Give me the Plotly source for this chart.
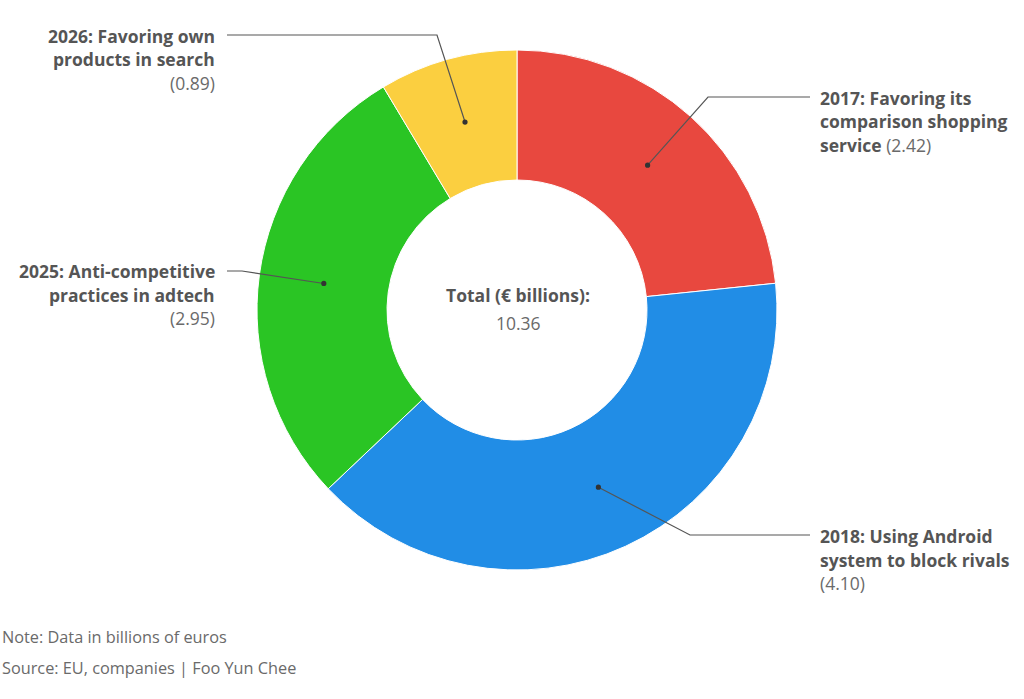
import plotly.graph_objects as go
import math

# ---------------- data ----------------
years = ["2017", "2018", "2025", "2026"]
label_lines = [
    ["Favoring its", "comparison shopping", "service"],
    ["Using Android", "system to block rivals"],
    ["Anti-competitive", "practices in adtech"],
    ["Favoring own", "products in search"],
]
values = [2.42, 4.10, 2.95, 0.89]
colors = ["#E8483F", "#218DE6", "#2AC524", "#FBCF40"]
total_label = "Total (€ billions):"
note_text = "Note: Data in billions of euros"
source_text = "Source: EU, companies | Foo Yun Chee"

# ---------------- layout / style (pixels) ----------------
W, H = 1024, 699
CX, CY, R_OUT, HOLE = 517, 310, 260, 0.5
value_inline = [True, False, False, False]
label_side = ["right", "right", "left", "left"]
label_x = [818, 818, 217, 217]
label_y0 = [98, 536, 271, 36]
line_gap = 23.5
elbows = [(708, 97), (690, 535), (242, 271), (437, 35)]
line_ends = [(810, 97), (810, 535), (227, 271), (227, 35)]
TEXT = "#555555"
NUM = "#6a6a6a"
FONT = "Open Sans"
LABEL_SIZE = 17.5
FOOT_SIZE = 16.3


def px(x):
    return x / W


def py(y):
    return 1 - y / H


fig = go.Figure(go.Pie(
    labels=[f"{y}: {' '.join(l)}" for y, l in zip(years, label_lines)],
    values=values,
    hole=HOLE,
    sort=False,
    direction="clockwise",
    rotation=0,
    marker=dict(colors=colors, line=dict(color="white", width=1)),
    textinfo="none",
    hoverinfo="label+value",
    showlegend=False,
    domain=dict(x=[px(CX - R_OUT), px(CX + R_OUT)], y=[py(CY + R_OUT), py(CY - R_OUT)]),
))

annotations = []
shapes = []
total = sum(values)
cum = 0.0
r_mid = R_OUT * (1 + HOLE) / 2
for i, v in enumerate(values):
    frac_mid = (cum + v / 2) / total
    cum += v
    ang = 2 * math.pi * frac_mid
    dx = CX + r_mid * math.sin(ang)
    dy = CY - r_mid * math.cos(ang)
    ex, ey = elbows[i]
    lx, ly = line_ends[i]
    shapes.append(dict(
        type="path", xref="paper", yref="paper",
        path=f"M {px(dx)},{py(dy)} L {px(ex)},{py(ey)} L {px(lx)},{py(ly)}",
        line=dict(color="#555555", width=1.2),
    ))
    shapes.append(dict(
        type="circle", xref="paper", yref="paper",
        x0=px(dx - 2.6), x1=px(dx + 2.6), y0=py(dy + 2.6), y1=py(dy - 2.6),
        fillcolor="#333333", line=dict(width=0),
    ))
    lines = [f"<b>{years[i]}: {label_lines[i][0]}</b>"] + [f"<b>{t}</b>" for t in label_lines[i][1:]]
    vtxt = f"<span style='color:{NUM}'>({v:.2f})</span>"
    if value_inline[i]:
        lines[-1] = lines[-1] + " " + vtxt
    else:
        lines.append(vtxt)
    anchor = "left" if label_side[i] == "right" else "right"
    for k, t in enumerate(lines):
        annotations.append(dict(
            x=px(label_x[i]), y=py(label_y0[i] + k * line_gap), xref="paper", yref="paper",
            text=t, showarrow=False, xanchor=anchor, yanchor="middle",
            font=dict(family=FONT, size=LABEL_SIZE, color=TEXT),
        ))

annotations.append(dict(x=px(CX + 1), y=py(295), xref="paper", yref="paper",
                        text=f"<b>{total_label}</b>", showarrow=False,
                        xanchor="center", yanchor="middle",
                        font=dict(family=FONT, size=LABEL_SIZE, color=TEXT)))
annotations.append(dict(x=px(CX + 1), y=py(323), xref="paper", yref="paper",
                        text=f"{total:.2f}", showarrow=False,
                        xanchor="center", yanchor="middle",
                        font=dict(family=FONT, size=LABEL_SIZE, color=NUM)))
annotations.append(dict(x=0, y=py(637), xref="paper", yref="paper",
                        text=note_text, showarrow=False,
                        xanchor="left", yanchor="middle",
                        font=dict(family=FONT, size=FOOT_SIZE, color=NUM)))
annotations.append(dict(x=0, y=py(668), xref="paper", yref="paper",
                        text=source_text, showarrow=False,
                        xanchor="left", yanchor="middle",
                        font=dict(family=FONT, size=FOOT_SIZE, color=NUM)))

fig.update_layout(
    width=W, height=H,
    margin=dict(l=0, r=0, t=0, b=0),
    paper_bgcolor="white", plot_bgcolor="white",
    annotations=annotations, shapes=shapes,
)

fig.write_html("out.html",
               config={"displayModeBar": False},
               post_script="document.body.style.margin='0';document.body.style.overflow='hidden';")
